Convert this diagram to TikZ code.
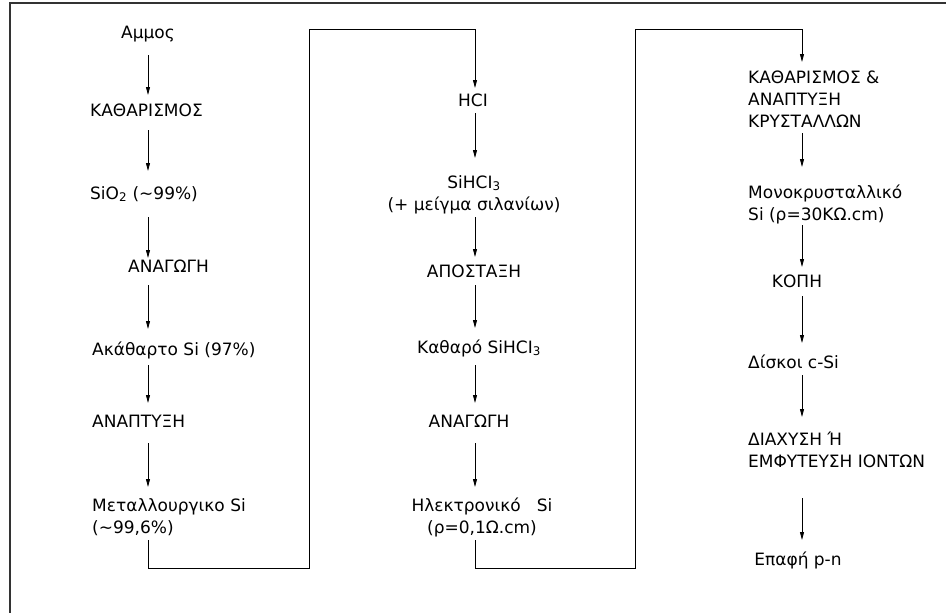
\documentclass[tikz,border=0pt]{standalone}
\usepackage{fontspec}
\setmainfont{DejaVu Sans}
\usetikzlibrary{arrows.meta}

\begin{document}
\begin{tikzpicture}[x=1pt, y=-1pt, >={Triangle[length=8pt,width=4pt]},
  stage/.style={inner sep=0pt, font=\fontsize{17}{22}\selectfont},
  flow/.style={->, line width=0.8pt}]
\useasboundingbox (0,0) rectangle (946,613);
\draw[line width=1.5pt, black!80] (10,613) -- (10,3) -- (946,3);

% the three columns the arrows run down
\coordinate (c1) at (148,0);
\coordinate (c2) at (475,0);
\coordinate (c3) at (802,0);

% first column: sand to metallurgical Si
\node[stage, anchor=base] (amm) at (148,38) {Αμμος};
\node[stage, anchor=base west] (kath) at (90,116) {ΚΑΘΑΡΙΣΜΟΣ};
\node[stage, anchor=base west] (sio) at (90,199) {SiO\textsubscript{2} (\textasciitilde 99\%)};
\node[stage, anchor=base west] (anag1) at (128,272) {ΑΝΑΓΩΓΗ};
\node[stage, anchor=base west] (akath) at (92,355) {Ακάθαρτο Si (97\%)};
\node[stage, anchor=base west] (anapt1) at (92,427) {ΑΝΑΠΤΥΞΗ};
\node[stage, anchor=base west, align=left] (metal) at (92,533) {Μεταλλουργικο Si\\(\textasciitilde 99,6\%)};

% second column: HCl route to electronic Si
\node[stage, anchor=base] (hcl) at (473,106) {HCI};
\node[stage, anchor=base, align=center] (sihcl) at (474,210) {SiHCI\textsubscript{3}\\(+ μείγμα σιλανίων)};
\node[stage, anchor=base] (apost) at (474,277) {ΑΠΟΣΤΑΞΗ};
\node[stage, anchor=base] (kathsi) at (479,353) {Καθαρό SiHCI\textsubscript{3}};
\node[stage, anchor=base] (anag2) at (469,427) {ΑΝΑΓΩΓΗ};
\node[stage, anchor=base, align=center] (elek) at (482,533) {Ηλεκτρονικό\ \ \ Si\\(ρ=0,1Ω.cm)};

% third column: crystal growth to the p-n junction
\node[stage, anchor=base west, align=left] (kathar) at (748,127) {ΚΑΘΑΡΙΣΜΟΣ \&\\ΑΝΑΠΤΥΞΗ\\ΚΡΥΣΤΑΛΛΩΝ};
\node[stage, anchor=base west, align=left] (mono) at (748,220) {Μονοκρυσταλλικό\\Si (ρ=30KΩ.cm)};
\node[stage, anchor=base] (kopi) at (797,287) {ΚΟΠΗ};
\node[stage, anchor=base west] (disk) at (748,368) {Δίσκοι c-Si};
\node[stage, anchor=base west, align=left] (diax) at (748,467) {ΔΙΑΧΥΣΗ Ή\\ΕΜΦΥΤΕΥΣΗ ΙΟΝΤΩΝ};
\node[stage, anchor=base] (epafi) at (798,565) {Επαφή p-n};

% arrows down each column
\foreach \a/\b/\col/\s/\e in {amm/kath/c1/17/21, kath/sio/c1/14/28, sio/anag1/c1/18/14,
    anag1/akath/c1/13/26, akath/anapt1/c1/10/24, anapt1/metal/c1/16/46,
    hcl/sihcl/c2/7/52, sihcl/apost/c2/7/20, apost/kathsi/c2/8/25,
    kathsi/anag2/c2/12/24, anag2/elek/c2/16/46,
    kathar/mono/c3/6/53, mono/kopi/c3/5/20, kopi/disk/c3/9/25,
    disk/diax/c3/7/50, diax/epafi/c3/31/25} {
  \draw[flow, shorten <=\s pt, shorten >=\e pt] (\a.base -| \col) -- (\b.base -| \col);
}

% links from the foot of one column to the head of the next
\coordinate (low1) at (309,568);
\coordinate (top1) at (309,29);
\coordinate (low2) at (635,568);
\coordinate (top2) at (635,29);
\draw[flow, shorten <=7pt, shorten >=18pt] (metal.base -| c1) |- (low1) -- (top1) -| (hcl.base -| c2);
\draw[flow, shorten <=7pt, shorten >=65pt] (elek.base -| c2) |- (low2) -- (top2) -| (kathar.base -| c3);
\end{tikzpicture}
\end{document}
